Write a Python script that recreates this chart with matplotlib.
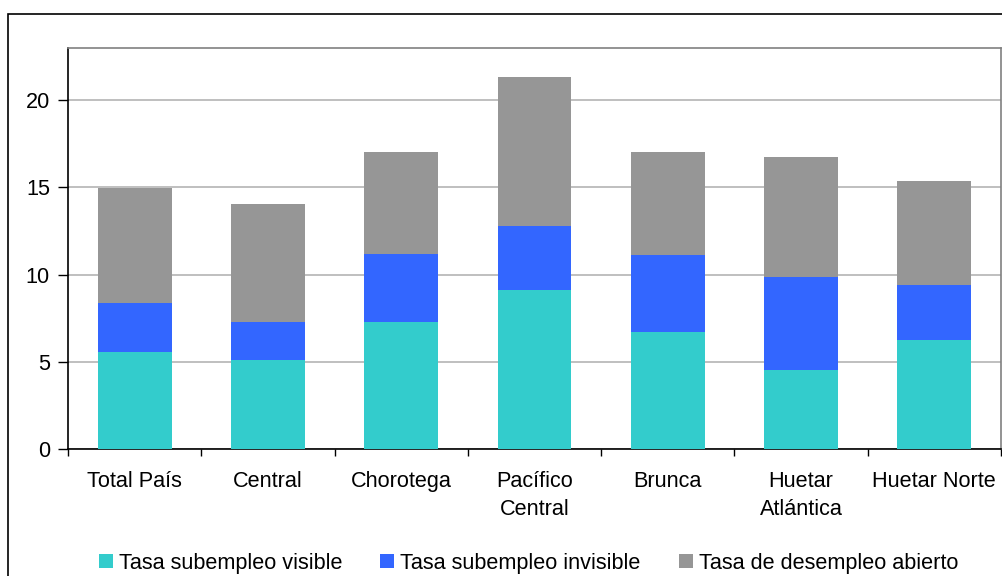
import numpy as np
import matplotlib
matplotlib.use('Agg')
from matplotlib import pyplot as plt
from matplotlib.patches import Rectangle

### datos
regiones = ['Total País', 'Central', 'Chorotega', 'Pacífico\nCentral',
            'Brunca', 'Huetar\nAtlántica', 'Huetar Norte']
sub_visible = [5.54, 5.12, 7.30, 9.13, 6.72, 4.54, 6.26]
sub_invisible = [2.84, 2.18, 3.89, 3.67, 4.41, 5.33, 3.16]
desempleo = [6.58, 6.76, 5.85, 8.54, 5.91, 6.88, 5.96]
series = ['Tasa subempleo visible', 'Tasa subempleo invisible',
          'Tasa de desempleo abierto']
colores = ['#33CCCC', '#3366FF', '#969696']

plt.rcParams['font.family'] = ['Liberation Sans', 'DejaVu Sans']
fs = 15.6

### plot
fig = plt.figure(figsize=(10.02, 5.76), dpi=100)
ax = fig.add_axes([68/1002, 1-449/576, 933/1002, 401/576])

x = np.arange(len(regiones))
w = 0.555
base = np.zeros(len(regiones))
for vals, lab, c in zip([sub_visible, sub_invisible, desempleo], series, colores):
    ax.bar(x, vals, w, bottom=base, color=c, label=lab, zorder=3)
    base = base + np.array(vals)

ax.set_xlim(-0.5, len(regiones) - 0.5)
ax.set_ylim(0, 23)
ax.set_yticks([0, 5, 10, 15, 20])
ax.yaxis.grid(True, color='#B4B4B4', linewidth=1.2, zorder=0)
ax.set_xticks(x)
ax.set_xticklabels(regiones, linespacing=1.45)
ax.set_xticks(np.arange(-0.5, len(regiones)), minor=True)
ax.tick_params(axis='x', which='major', length=0, pad=16, labelsize=fs)
ax.tick_params(axis='x', which='minor', length=5, width=1, direction='out')
ax.tick_params(axis='y', length=7, width=1, pad=6, labelsize=fs)

for s in ['left', 'bottom']:
    ax.spines[s].set_color('black')
    ax.spines[s].set_linewidth(1.2)
for s in ['top', 'right']:
    ax.spines[s].set_color('#808080')
    ax.spines[s].set_linewidth(1.2)

# marco exterior
fig.patches.append(Rectangle((8/1002, -0.05), 1.1, 1.05 - 14/576,
                             transform=fig.transFigure, fill=False,
                             edgecolor='black', linewidth=1.2))

fig.legend(loc='center', bbox_to_anchor=(528.5/1002, 1-563/576), ncol=3,
           frameon=False, fontsize=fs, handlelength=0.645, handleheight=0.645,
           handletextpad=0.28, columnspacing=1.75, borderpad=0)

fig.savefig('out.png', dpi=100)
